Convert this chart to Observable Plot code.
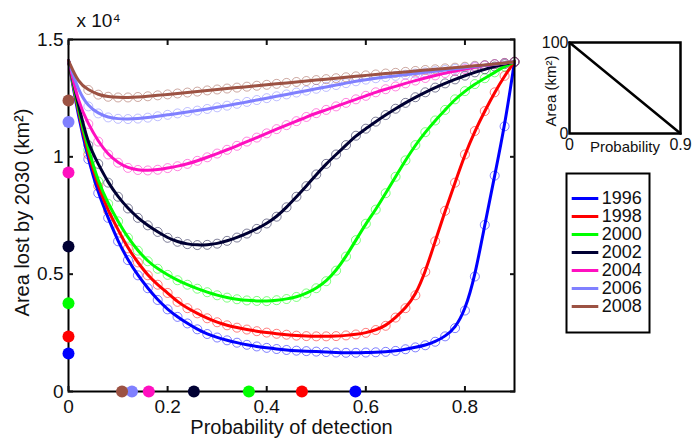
<!DOCTYPE html>
<html>
<head>
<meta charset="utf-8">
<script src="https://cdn.jsdelivr.net/npm/d3@7"></script>
<script src="https://cdn.jsdelivr.net/npm/@observablehq/plot@0.6"></script>
<style>
  body { margin: 0; background: #fff; }
  #wrap { position: relative; width: 698px; height: 440px; font-family: "Liberation Sans", Arial, "DejaVu Sans", sans-serif; }
  #wrap svg { position: absolute; overflow: visible; background: transparent; }
</style>
</head>
<body>
<div id="wrap"></div>
<script>
// ---- data ----
const years = [1996, 1998, 2000, 2002, 2004, 2006, 2008];
const colors = ["#0000ff", "#ff0000", "#00ff00", "#000033", "#ff10c0", "#8080ff", "#9c5243"];

const probs = [0, 0.02, 0.04, 0.06, 0.08, 0.1, 0.12, 0.14, 0.16, 0.18, 0.2, 0.22, 0.24, 0.26, 0.28, 0.3,
  0.32, 0.34, 0.36, 0.38, 0.4, 0.42, 0.44, 0.46, 0.48, 0.5, 0.52, 0.54, 0.56, 0.58, 0.6, 0.62, 0.64,
  0.66, 0.68, 0.7, 0.72, 0.74, 0.76, 0.78, 0.8, 0.82, 0.84, 0.86, 0.88, 0.9];

const area1996 = [1.41, 1.17, 0.99, 0.845, 0.74, 0.64, 0.56, 0.495, 0.44, 0.39, 0.35, 0.318, 0.29, 0.265, 0.245, 0.23,
  0.218, 0.208, 0.199, 0.192, 0.186, 0.181, 0.177, 0.174, 0.172, 0.17, 0.168, 0.166, 0.165, 0.165, 0.166, 0.167, 0.169,
  0.173, 0.18, 0.188, 0.197, 0.212, 0.235, 0.27, 0.345, 0.49, 0.71, 0.92, 1.13, 1.405];
const area1998 = [1.41, 1.19, 1.01, 0.875, 0.77, 0.69, 0.61, 0.55, 0.495, 0.455, 0.42, 0.382, 0.355, 0.333, 0.312, 0.295,
  0.282, 0.272, 0.264, 0.257, 0.251, 0.246, 0.242, 0.238, 0.236, 0.235, 0.235, 0.236, 0.239, 0.243, 0.25, 0.262, 0.28,
  0.315, 0.355, 0.41, 0.51, 0.64, 0.77, 0.89, 1.01, 1.11, 1.195, 1.275, 1.345, 1.405];
const area2000 = [1.41, 1.2, 1.03, 0.895, 0.8, 0.725, 0.655, 0.6, 0.555, 0.523, 0.497, 0.474, 0.455, 0.438, 0.423, 0.41,
  0.4, 0.393, 0.388, 0.386, 0.385, 0.389, 0.394, 0.403, 0.418, 0.44, 0.47, 0.515, 0.575, 0.645, 0.715, 0.775, 0.845,
  0.915, 0.985, 1.05, 1.105, 1.155, 1.2, 1.245, 1.28, 1.31, 1.335, 1.36, 1.385, 1.405];
const area2002 = [1.41, 1.22, 1.05, 0.97, 0.89, 0.83, 0.78, 0.74, 0.708, 0.68, 0.655, 0.638, 0.628, 0.624, 0.625, 0.63,
  0.642, 0.656, 0.673, 0.693, 0.716, 0.745, 0.785, 0.83, 0.875, 0.925, 0.97, 1.01, 1.05, 1.09, 1.12, 1.15, 1.178,
  1.205, 1.23, 1.254, 1.275, 1.295, 1.313, 1.33, 1.346, 1.36, 1.373, 1.385, 1.395, 1.405];
const area2004 = [1.41, 1.23, 1.14, 1.065, 1.01, 0.975, 0.953, 0.944, 0.942, 0.945, 0.952, 0.96, 0.97, 0.983, 0.998, 1.014,
  1.03, 1.047, 1.065, 1.082, 1.1, 1.118, 1.135, 1.152, 1.17, 1.186, 1.2, 1.215, 1.23, 1.245, 1.26, 1.275, 1.288,
  1.3, 1.313, 1.325, 1.336, 1.347, 1.357, 1.366, 1.374, 1.382, 1.389, 1.395, 1.4, 1.405];
const area2006 = [1.41, 1.28, 1.215, 1.185, 1.168, 1.162, 1.161, 1.163, 1.167, 1.173, 1.179, 1.185, 1.191, 1.197, 1.204, 1.211,
  1.218, 1.226, 1.234, 1.242, 1.25, 1.258, 1.266, 1.274, 1.282, 1.29, 1.298, 1.306, 1.314, 1.322, 1.329, 1.335, 1.34,
  1.345, 1.35, 1.355, 1.36, 1.365, 1.37, 1.375, 1.38, 1.385, 1.39, 1.395, 1.4, 1.405];
const area2008 = [1.41, 1.315, 1.285, 1.265, 1.256, 1.253, 1.253, 1.255, 1.258, 1.262, 1.266, 1.27, 1.274, 1.278, 1.283, 1.287,
  1.291, 1.295, 1.299, 1.303, 1.307, 1.311, 1.315, 1.319, 1.323, 1.327, 1.331, 1.335, 1.339, 1.343, 1.347, 1.351, 1.355,
  1.358, 1.362, 1.366, 1.37, 1.373, 1.377, 1.38, 1.384, 1.388, 1.391, 1.395, 1.4, 1.405];

// minimum area (dot on y axis) and probability at that minimum (dot on x axis)
const minArea = [0.162, 0.234, 0.376, 0.618, 0.933, 1.148, 1.24];
const minProb = [0.579, 0.471, 0.364, 0.253, 0.162, 0.128, 0.108];

const xTicks = [0, 0.2, 0.4, 0.6, 0.8];
const yTicks = [0, 0.5, 1, 1.5];
const xLabel = "Probability of detection";
const yLabel = "Area lost by 2030 (km\u00b2)";
const scaleNote = "x 10\u2074";

// inset
const insetProb = [0, 0.9];
const insetArea = [100, 0];
const insetXTicks = [0, 0.9];
const insetYTicks = [0, 100];
const insetXLabel = "Probability";
const insetYLabel = "Area (km\u00b2)";

// ---- build tables ----
const seriesValues = [area1996, area1998, area2000, area2002, area2004, area2006, area2008];
const rows = [];
years.forEach((yr, i) => probs.forEach((p, j) => rows.push({year: yr, prob: p, area: seriesValues[i][j]})));
const minRows = years.map((yr, i) => ({year: yr, area: minArea[i], prob: minProb[i]}));
const insetRows = insetProb.map((p, i) => ({prob: p, area: insetArea[i]}));

const font = '"Liberation Sans", Arial, "DejaVu Sans", sans-serif';
const colorScale = {type: "ordinal", domain: years, range: colors};
const fmt = d => String(d);

const main = Plot.plot({
  width: 698, height: 440,
  marginLeft: 68, marginRight: 184, marginTop: 39, marginBottom: 49,
  x: {domain: [0, 0.9]},
  y: {domain: [0, 1.5]},
  color: colorScale,
  style: {fontFamily: font, fontSize: "19px", color: "#111", background: "transparent"},
  marks: [
    Plot.dot(rows.filter(d => d.prob >= 0.04), {x: "prob", y: "area", stroke: "year", r: 4.5, strokeWidth: 1, strokeOpacity: 0.5}),
    Plot.line(rows, {x: "prob", y: "area", z: "year", stroke: "year", curve: "basis", strokeWidth: 3}),
    Plot.frame({stroke: "#000", strokeWidth: 2}),
    Plot.axisX(xTicks, {anchor: "bottom", tickSize: -5, strokeWidth: 2, tickFormat: () => "", label: null}),
    Plot.axisX(xTicks, {anchor: "top", tickSize: -5, strokeWidth: 2, tickFormat: () => "", label: null}),
    Plot.axisY(yTicks, {anchor: "left", tickSize: -5, strokeWidth: 2, tickFormat: () => "", label: null}),
    Plot.axisY(yTicks, {anchor: "right", tickSize: -5, strokeWidth: 2, tickFormat: () => "", label: null}),
    Plot.axisX(xTicks, {anchor: "bottom", tickSize: 0, tickPadding: 8, tickFormat: fmt, label: null, fontSize: 19}),
    Plot.axisY(yTicks, {anchor: "left", tickSize: 0, tickPadding: 5, tickFormat: fmt, label: null, fontSize: 19}),
    Plot.dot(minRows, {x: 0, y: "area", fill: "year", r: 6}),
    Plot.dot(minRows, {x: "prob", y: 0, fill: "year", r: 6}),
    Plot.text([scaleNote], {text: d => d, frameAnchor: "top-left", dx: 8, dy: -19, textAnchor: "start", lineAnchor: "middle", fontSize: 19}),
    Plot.text([yLabel], {text: d => d, frameAnchor: "left", rotate: -90, dx: -46, dy: -3, textAnchor: "middle", lineAnchor: "middle", fontSize: 20}),
    Plot.text([xLabel], {text: d => d, frameAnchor: "bottom", dy: 36, textAnchor: "middle", lineAnchor: "middle", fontSize: 20})
  ]
});
main.style.left = "0px";
main.style.top = "0px";

const inset = Plot.plot({
  width: 169, height: 160,
  marginLeft: 40, marginRight: 18, marginTop: 42, marginBottom: 27,
  x: {domain: [0, 0.9]},
  y: {domain: [0, 100]},
  style: {fontFamily: font, fontSize: "16px", color: "#111", background: "transparent"},
  marks: [
    Plot.line(insetRows, {x: "prob", y: "area", stroke: "#000", strokeWidth: 2.5}),
    Plot.frame({stroke: "#000", strokeWidth: 2.5}),
    Plot.axisX(insetXTicks, {anchor: "bottom", tickSize: 0, tickPadding: 5, tickFormat: fmt, label: null, fontSize: 16}),
    Plot.axisY(insetYTicks, {anchor: "left", tickSize: 0, tickPadding: 1, tickFormat: fmt, label: null, fontSize: 16}),
    Plot.text([insetXLabel], {text: d => d, frameAnchor: "bottom", dy: 14, textAnchor: "middle", lineAnchor: "middle", fontSize: 15}),
    Plot.text([insetYLabel], {text: d => d, frameAnchor: "left", rotate: -90, dx: -18, dy: 3, textAnchor: "middle", lineAnchor: "middle", fontSize: 15})
  ]
});
inset.style.left = "529px";
inset.style.top = "0px";

const legend = Plot.plot({
  width: 85, height: 161,
  marginLeft: 1, marginRight: 1, marginTop: 1, marginBottom: 1,
  x: {domain: [0, 1], range: [6.7, 33.3], axis: null},
  y: {type: "point", domain: years, range: [14.3, 145.3], axis: null},
  color: colorScale,
  style: {fontFamily: font, fontSize: "18px", color: "#111", background: "transparent"},
  marks: [
    Plot.frame({stroke: "#000", strokeWidth: 2}),
    Plot.ruleY(years, {y: d => d, x1: 0, x2: 1, stroke: d => d, strokeWidth: 3}),
    Plot.text(years, {y: d => d, x: 1, dx: 3, text: d => String(d), textAnchor: "start", lineAnchor: "middle", fontSize: 18})
  ]
});
legend.style.left = "565px";
legend.style.top = "172px";

const wrap = document.getElementById("wrap");
wrap.appendChild(main);
wrap.appendChild(inset);
wrap.appendChild(legend);
</script>
</body>
</html>
